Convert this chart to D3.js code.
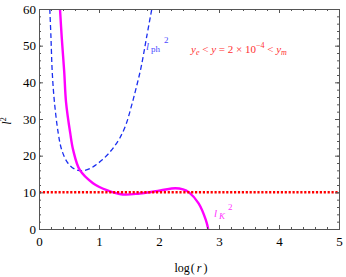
<!DOCTYPE html>
<html>
<head>
<meta charset="utf-8">
<script src="https://cdn.jsdelivr.net/npm/d3@7"></script>
<style>
  body { margin: 0; background: #fff; }
  svg text { font-family: "Liberation Serif", "Times New Roman", serif; }
</style>
</head>
<body>
<svg id="chart" width="346" height="277"></svg>
<script>
// values: [log(r), l^2]
const photonCurve = [
  [0.18, 60], [0.20, 52], [0.22, 43], [0.255, 35], [0.32, 26.2], [0.38, 21.5],
  [0.48, 18], [0.60, 16.3], [0.72, 15.9], [0.85, 16.5], [0.95, 17.5],
  [1.05, 18.8], [1.15, 20.4], [1.25, 22.4], [1.35, 24.9], [1.45, 28.5],
  [1.54, 33.5], [1.62, 38.5], [1.70, 44], [1.79, 52], [1.88, 60]
];
const keplerCurve = [
  [0.35, 60], [0.38, 52], [0.42, 43], [0.45, 34.7], [0.52, 26.2], [0.57, 21.5],
  [0.68, 16.1], [0.90, 12.5], [1.13, 10.6], [1.40, 9.4], [1.68, 9.7],
  [2.02, 10.5], [2.27, 11.1], [2.40, 10.8], [2.50, 10], [2.66, 7],
  [2.78, 2.5], [2.82, 0]
];
const levelLine = [[0, 10], [5, 10]];

const xTicks = [0, 1, 2, 3, 4, 5];
const yTicks = [0, 10, 20, 30, 40, 50, 60];

const frame = { left: 39, right: 339, top: 9, bottom: 229 };

const svg = d3.select('#chart');

const x = d3.scaleLinear().domain([0, 5]).range([frame.left, frame.right]);
const y = d3.scaleLinear().domain([0, 60]).range([frame.bottom, frame.top]);

svg.append('defs').append('clipPath').attr('id', 'plot')
  .append('rect')
  .attr('x', frame.left).attr('y', frame.top)
  .attr('width', frame.right - frame.left).attr('height', frame.bottom - frame.top);

const line = d3.line()
  .x(d => x(d[0]))
  .y(d => y(d[1]))
  .curve(d3.curveCatmullRom.alpha(0.5));

const plot = svg.append('g').attr('clip-path', 'url(#plot)');

plot.append('path')
  .datum(photonCurve)
  .attr('d', line)
  .attr('fill', 'none')
  .attr('stroke', '#1a2ef0')
  .attr('stroke-width', 1.3)
  .attr('stroke-dasharray', '5,3');

plot.append('path')
  .datum(keplerCurve)
  .attr('d', line)
  .attr('fill', 'none')
  .attr('stroke', '#ff00ff')
  .attr('stroke-width', 2.4);

plot.append('path')
  .datum(levelLine)
  .attr('d', d3.line().x(d => x(d[0])).y(d => y(d[1])))
  .attr('fill', 'none')
  .attr('stroke', '#ff0000')
  .attr('stroke-width', 2.5)
  .attr('stroke-dasharray', '2.2,1.7');

// frame with ticks on all four sides
const frameColor = '#555';
const minorX = d3.range(0, 5.001, 0.2);
const minorY = d3.range(0, 60.001, 2);

function styleAxis(g) {
  g.attr('font-family', null);
  g.select('.domain').attr('stroke', frameColor);
  g.selectAll('.tick line').attr('stroke', frameColor);
  g.selectAll('.tick text')
    .attr('fill', '#000')
    .style('font-family', '"Liberation Serif", "Times New Roman", serif')
    .style('font-size', '13px');
}

// minor ticks
svg.append('g').attr('transform', `translate(0,${frame.bottom})`)
  .call(d3.axisTop(x).tickValues(minorX).tickSize(2).tickFormat('').tickSizeOuter(0))
  .call(styleAxis);
svg.append('g').attr('transform', `translate(0,${frame.top})`)
  .call(d3.axisBottom(x).tickValues(minorX).tickSize(2).tickFormat('').tickSizeOuter(0))
  .call(styleAxis);
svg.append('g').attr('transform', `translate(${frame.left},0)`)
  .call(d3.axisRight(y).tickValues(minorY).tickSize(2).tickFormat('').tickSizeOuter(0))
  .call(styleAxis);
svg.append('g').attr('transform', `translate(${frame.right},0)`)
  .call(d3.axisLeft(y).tickValues(minorY).tickSize(2).tickFormat('').tickSizeOuter(0))
  .call(styleAxis);

// major ticks, inward, labels on bottom and left
svg.append('g').attr('transform', `translate(0,${frame.bottom})`)
  .call(d3.axisBottom(x).tickValues(xTicks).tickFormat(d3.format('d'))
    .tickSize(-4).tickPadding(8).tickSizeOuter(0))
  .call(styleAxis);
svg.append('g').attr('transform', `translate(0,${frame.top})`)
  .call(d3.axisTop(x).tickValues(xTicks).tickSize(-4).tickFormat('').tickSizeOuter(0))
  .call(styleAxis);
svg.append('g').attr('transform', `translate(${frame.left},0)`)
  .call(d3.axisLeft(y).tickValues(yTicks).tickFormat(d3.format('d'))
    .tickSize(-4).tickPadding(3).tickSizeOuter(0))
  .call(styleAxis);
svg.append('g').attr('transform', `translate(${frame.right},0)`)
  .call(d3.axisRight(y).tickValues(yTicks).tickSize(-4).tickFormat('').tickSizeOuter(0))
  .call(styleAxis);

// axis titles
svg.append('text')
  .attr('x', 191).attr('y', 272)
  .attr('text-anchor', 'middle')
  .style('font-size', '12px')
  .html('log<tspan dx="1">(</tspan><tspan dx="2" font-style="italic">r</tspan><tspan dx="2">)</tspan>');

svg.append('text')
  .attr('transform', 'translate(11,121) rotate(-90)')
  .attr('text-anchor', 'middle')
  .style('font-size', '12px')
  .html('<tspan font-style="italic">l</tspan><tspan dy="-5" font-size="8px">2</tspan>');

// curve labels
svg.append('text')
  .attr('x', 146).attr('y', 50)
  .attr('fill', '#4a4aff')
  .style('font-size', '11px')
  .html('<tspan font-style="italic">l</tspan><tspan dx="2" dy="2" font-size="9px">ph</tspan><tspan dx="4" dy="-9" font-size="9px">2</tspan>');

svg.append('text')
  .attr('x', 214).attr('y', 217)
  .attr('fill', '#ff33ff')
  .style('font-size', '11px')
  .html('<tspan font-style="italic">l</tspan><tspan dx="2" dy="2" font-size="9px" font-style="italic">K</tspan><tspan dx="3" dy="-9" font-size="9px">2</tspan>');

svg.append('text')
  .attr('x', 191).attr('y', 53)
  .attr('fill', '#ff3030')
  .style('font-size', '11px')
  .html('<tspan font-style="italic">y</tspan><tspan dy="2" font-size="8px" font-style="italic">e</tspan><tspan dy="-2"> &lt; </tspan><tspan font-style="italic">y</tspan><tspan> = 2 × 10</tspan><tspan dy="-5" font-size="8px">−4</tspan><tspan dy="5"> &lt; </tspan><tspan font-style="italic">y</tspan><tspan dy="2" font-size="8px" font-style="italic">m</tspan>');
</script>
</body>
</html>
